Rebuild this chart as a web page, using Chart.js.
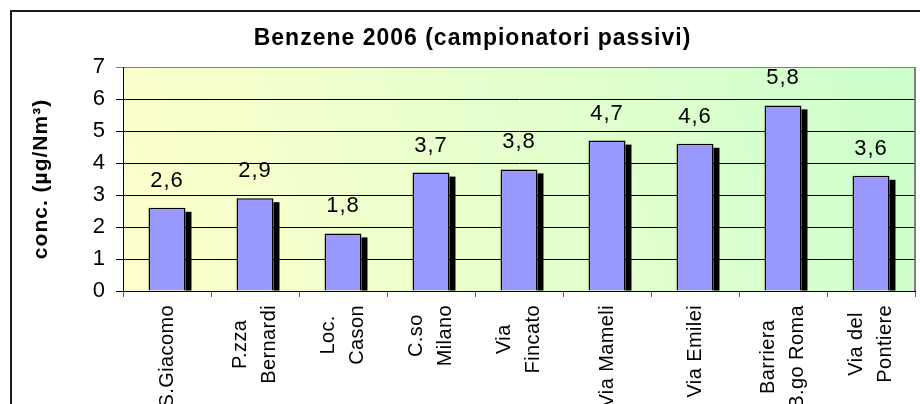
<!DOCTYPE html>
<html>
<head>
<meta charset="utf-8">
<script src="https://cdn.jsdelivr.net/npm/chart.js@4/dist/chart.umd.min.js"></script>
<style>
    html, body { margin: 0; padding: 0; background: #fff; overflow: hidden; }
    #wrap { width: 920px; height: 404px; position: relative; }
</style>
</head>
<body>
<div id="wrap"><canvas id="chart" width="920" height="404"></canvas></div>
<script>
    // Data
    var stations = [
        ['S.Giacomo'],
        ['P.zza', 'Bernardi'],
        ['Loc.', 'Cason'],
        ['C.so', 'Milano'],
        ['Via', 'Fincato'],
        ['Via Mameli'],
        ['Via Emilei'],
        ['Barriera', 'B.go Roma'],
        ['Via del', 'Pontiere']
    ];
    var benzene = [2.6, 2.9, 1.8, 3.7, 3.8, 4.7, 4.6, 5.8, 3.6];
    var yMin = 0;
    var yMax = 7;
    var yStep = 1;
    var chartTitle = 'Benzene 2006 (campionatori passivi)';
    var yTitle = 'conc. (µg/Nm³)';

    var FONT = 'Arial, "Liberation Sans", sans-serif';

    function formatValue(v) {
        return v.toFixed(1).replace('.', ',');
    }

    var decorPlugin = {
        id: 'decor',

        beforeDraw: function(chart) {
            var ctx = chart.ctx;
            var a = chart.chartArea;

            // Excel text runs a bit wider than plain Arial
            ctx.letterSpacing = '1px';

            ctx.save();
            // outer frame (top and left edges only are visible)
            ctx.fillStyle = '#1a1a1a';
            ctx.fillRect(10, 10, 2, chart.height);
            ctx.fillRect(10, 10, chart.width, 2);

            // plot area gradient, yellow bottom-left to green top-right
            var g = ctx.createLinearGradient(a.left, a.bottom, a.right, a.top);
            g.addColorStop(0, '#FFFFCC');
            g.addColorStop(1, '#CCFFCC');
            ctx.fillStyle = g;
            ctx.fillRect(a.left, a.top, a.right - a.left, a.bottom - a.top);
            ctx.restore();
        },

        beforeDatasetsDraw: function(chart) {
            var ctx = chart.ctx;
            var a = chart.chartArea;

            ctx.save();
            // right edge of the plot area
            ctx.strokeStyle = '#808080';
            ctx.lineWidth = 2;
            ctx.beginPath();
            ctx.moveTo(a.right, a.top);
            ctx.lineTo(a.right, a.bottom);
            ctx.stroke();

            // black drop shadow behind each bar
            ctx.fillStyle = '#000';
            chart.getDatasetMeta(0).data.forEach(function(bar) {
                var p = bar.getProps(['x', 'y', 'base', 'width'], true);
                ctx.fillRect(p.x + p.width / 2, p.y + 4, 6, p.base - p.y - 4);
            });
            ctx.restore();
        },

        afterDatasetsDraw: function(chart) {
            var ctx = chart.ctx;

            // value labels above the bars
            ctx.save();
            ctx.font = '22px ' + FONT;
            ctx.fillStyle = '#000';
            ctx.textAlign = 'center';
            ctx.textBaseline = 'alphabetic';
            ctx.letterSpacing = '1px';
            chart.getDatasetMeta(0).data.forEach(function(bar, i) {
                var p = bar.getProps(['x', 'y'], true);
                ctx.fillText(formatValue(benzene[i]), p.x, p.y - 21);
            });
            ctx.restore();
        },

        afterDraw: function(chart) {
            var ctx = chart.ctx;
            var xs = chart.scales.x;

            // category labels, rotated, lines centred on each other
            ctx.save();
            ctx.font = '20px ' + FONT;
            ctx.fillStyle = '#000';
            ctx.textAlign = 'center';
            ctx.textBaseline = 'middle';
            ctx.letterSpacing = '0.4px';
            stations.forEach(function(lines, i) {
                var x = xs.getPixelForValue(i);
                var w = 0;
                lines.forEach(function(l) {
                    w = Math.max(w, ctx.measureText(l).width);
                });
                ctx.save();
                ctx.translate(x, xs.top + 14);
                ctx.rotate(-Math.PI / 2);
                lines.forEach(function(line, j) {
                    ctx.fillText(line, -w / 2, (j - (lines.length - 1) / 2) * 29);
                });
                ctx.restore();
            });
            ctx.restore();
        }
    };

    var ctx = document.getElementById('chart').getContext('2d');

    new Chart(ctx, {
        type: 'bar',
        data: {
            labels: stations,
            datasets: [{
                data: benzene,
                backgroundColor: '#9999FF',
                borderColor: '#000',
                borderWidth: 1.5,
                barPercentage: 0.42,
                categoryPercentage: 1
            }]
        },
        options: {
            responsive: false,
            animation: false,
            layout: {
                padding: { left: 30, right: 5, top: 0, bottom: 0 }
            },
            plugins: {
                legend: { display: false },
                tooltip: { enabled: false },
                title: {
                    display: true,
                    text: chartTitle,
                    color: '#000',
                    font: { family: FONT, size: 23, weight: 'bold' },
                    padding: { top: 25, bottom: 14.4 }
                }
            },
            scales: {
                x: {
                    z: 1,
                    grid: {
                        display: true,
                        drawOnChartArea: false,
                        drawTicks: true,
                        tickLength: 6,
                        color: '#606060',
                        offset: true
                    },
                    border: { display: true, color: '#000', width: 1 },
                    ticks: { display: false },
                    afterFit: function(scale) {
                        scale.height = 113;
                    }
                },
                y: {
                    min: yMin,
                    max: yMax,
                    ticks: {
                        stepSize: yStep,
                        color: '#000',
                        padding: 10,
                        font: { family: FONT, size: 22 },
                        callback: function(v) { return String(v); }
                    },
                    grid: {
                        color: function(c) {
                            return c.tick && c.tick.value === yMax ? '#808080' : '#000';
                        },
                        lineWidth: 1,
                        tickLength: 7
                    },
                    border: { display: true, color: '#000', width: 1 },
                    title: {
                        display: true,
                        text: yTitle,
                        color: '#000',
                        font: { family: FONT, size: 21, weight: 'bold', lineHeight: 1.05 },
                        padding: 0
                    },
                    afterFit: function(scale) {
                        scale.width = 93;
                    }
                }
            }
        },
        plugins: [decorPlugin]
    });
</script>
</body>
</html>
